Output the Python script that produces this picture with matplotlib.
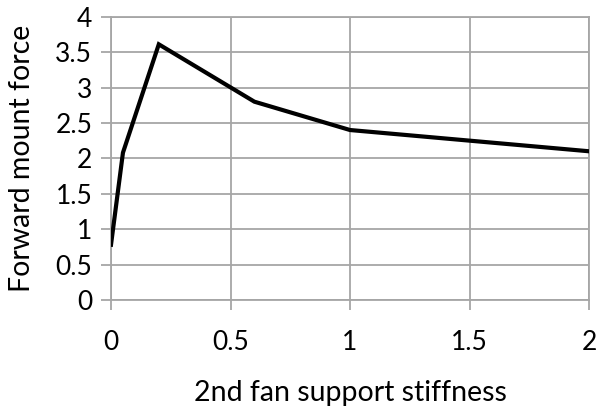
import matplotlib
matplotlib.use("Agg")
import matplotlib.pyplot as plt

# Forward mount force vs. 2nd fan support stiffness
stiffness = [0.0, 0.05, 0.2, 0.6, 1.0, 2.0]
mount_force = [0.78, 2.08, 3.61, 2.80, 2.40, 2.10]

x_ticks = [0, 0.5, 1, 1.5, 2]
x_tick_labels = ["0", "0.5", "1", "1.5", "2"]
y_ticks = [0, 0.5, 1, 1.5, 2, 2.5, 3, 3.5, 4]
y_tick_labels = ["0", "0.5", "1", "1.5", "2", "2.5", "3", "3.5", "4"]

plt.rcParams["font.family"] = ["Lato", "DejaVu Sans"]

fig = plt.figure(figsize=(5.97, 4.11), dpi=100)
ax = fig.add_axes([111 / 597, 1 - 300 / 411, 478 / 597, 283.3 / 411])

grid_color = "#a6a6a6"
ax.plot(stiffness, mount_force, color="black", lw=3.0, solid_joinstyle="miter", zorder=3)

ax.set_xlim(0, 2)
ax.set_ylim(0, 4)
ax.set_xticks(x_ticks)
ax.set_xticklabels(x_tick_labels)
ax.set_yticks(y_ticks)
ax.set_yticklabels(y_tick_labels)

ax.grid(True, color=grid_color, lw=1.3)
for s in ax.spines.values():
    s.set_color(grid_color)
    s.set_linewidth(1.3)
ax.tick_params(axis="both", colors=grid_color, length=7.5, width=1.3, labelsize=19,
               labelcolor="black")
ax.tick_params(axis="x", pad=14)
ax.tick_params(axis="y", pad=6)

ax.set_xlabel("2nd fan support stiffness", fontsize=20.5, labelpad=18)
ax.set_ylabel("Forward mount force", fontsize=20.5, labelpad=15)

fig.savefig("out.png", dpi=100)
